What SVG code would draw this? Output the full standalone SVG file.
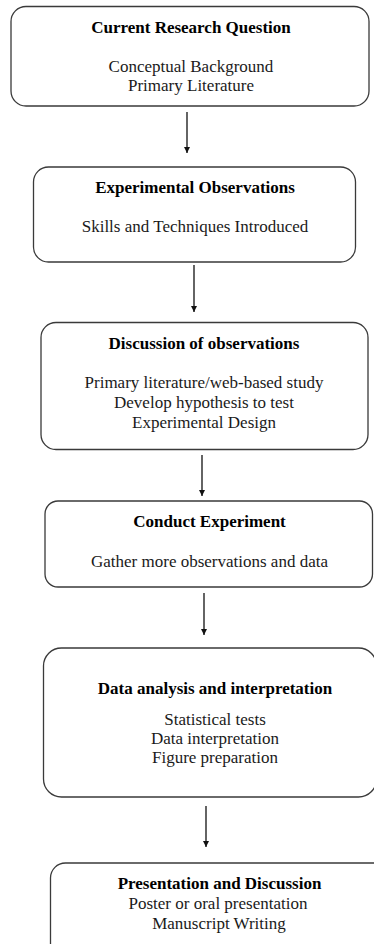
<svg xmlns="http://www.w3.org/2000/svg" width="374" height="944" viewBox="0 0 374 944">
<style>
.box{fill:#fff;stroke:#3a3a3a;stroke-width:1.3}
.t{font-family:"Liberation Serif","Times New Roman",serif;font-size:17px;text-anchor:middle}
.h{font-weight:bold;fill:#000}
.b{fill:#1a1a1a}
.c{stroke:#111;stroke-width:1.3;fill:none;marker-end:url(#ah)}
</style>
<defs>
<marker id="ah" markerWidth="8" markerHeight="8" refX="6" refY="3" orient="auto" markerUnits="userSpaceOnUse">
<path d="M0,0 L6,3 L0,6 Z" fill="#111"/>
</marker>
</defs>
<rect width="374" height="944" fill="#fff"/>
<g id="connectors">
<line class="c" x1="187" y1="112" x2="187" y2="153"/>
<line class="c" x1="194" y1="265" x2="194" y2="312"/>
<line class="c" x1="202" y1="455" x2="202" y2="496"/>
<line class="c" x1="204" y1="593" x2="204" y2="635"/>
<line class="c" x1="206" y1="806" x2="206" y2="847"/>
</g>
<g id="n1">
<rect class="box" x="11" y="6.5" width="358" height="99.5" rx="15"/>
<text class="t h" x="191" y="33">Current Research Question</text>
<text class="t b" x="191" y="72">Conceptual Background</text>
<text class="t b" x="191" y="91">Primary Literature</text>
</g>
<g id="n2">
<rect class="box" x="33.5" y="167" width="322" height="95" rx="15"/>
<text class="t h" x="195" y="193">Experimental Observations</text>
<text class="t b" x="195" y="232">Skills and Techniques Introduced</text>
</g>
<g id="n3">
<rect class="box" x="41" y="322.5" width="327" height="127" rx="15"/>
<text class="t h" x="204" y="348.5">Discussion of observations</text>
<text class="t b" x="204" y="388">Primary literature/web-based study</text>
<text class="t b" x="204" y="408">Develop hypothesis to test</text>
<text class="t b" x="204" y="428">Experimental Design</text>
</g>
<g id="n4">
<rect class="box" x="45" y="501" width="327.5" height="86" rx="13"/>
<text class="t h" x="209.5" y="527">Conduct Experiment</text>
<text class="t b" x="209.5" y="567">Gather more observations and data</text>
</g>
<g id="n5">
<rect class="box" x="43.5" y="648" width="333" height="149" rx="18"/>
<text class="t h" x="215" y="693.5">Data analysis and interpretation</text>
<text class="t b" x="215" y="724.5">Statistical tests</text>
<text class="t b" x="215" y="743.5">Data interpretation</text>
<text class="t b" x="215" y="763">Figure preparation</text>
</g>
<g id="n6">
<rect class="box" x="50.5" y="863" width="340" height="95" rx="15"/>
<text class="t h" x="219.5" y="888.5">Presentation and Discussion</text>
<text class="t b" x="218" y="908.5">Poster or oral presentation</text>
<text class="t b" x="219" y="928.5">Manuscript Writing</text>
</g>
</svg>
